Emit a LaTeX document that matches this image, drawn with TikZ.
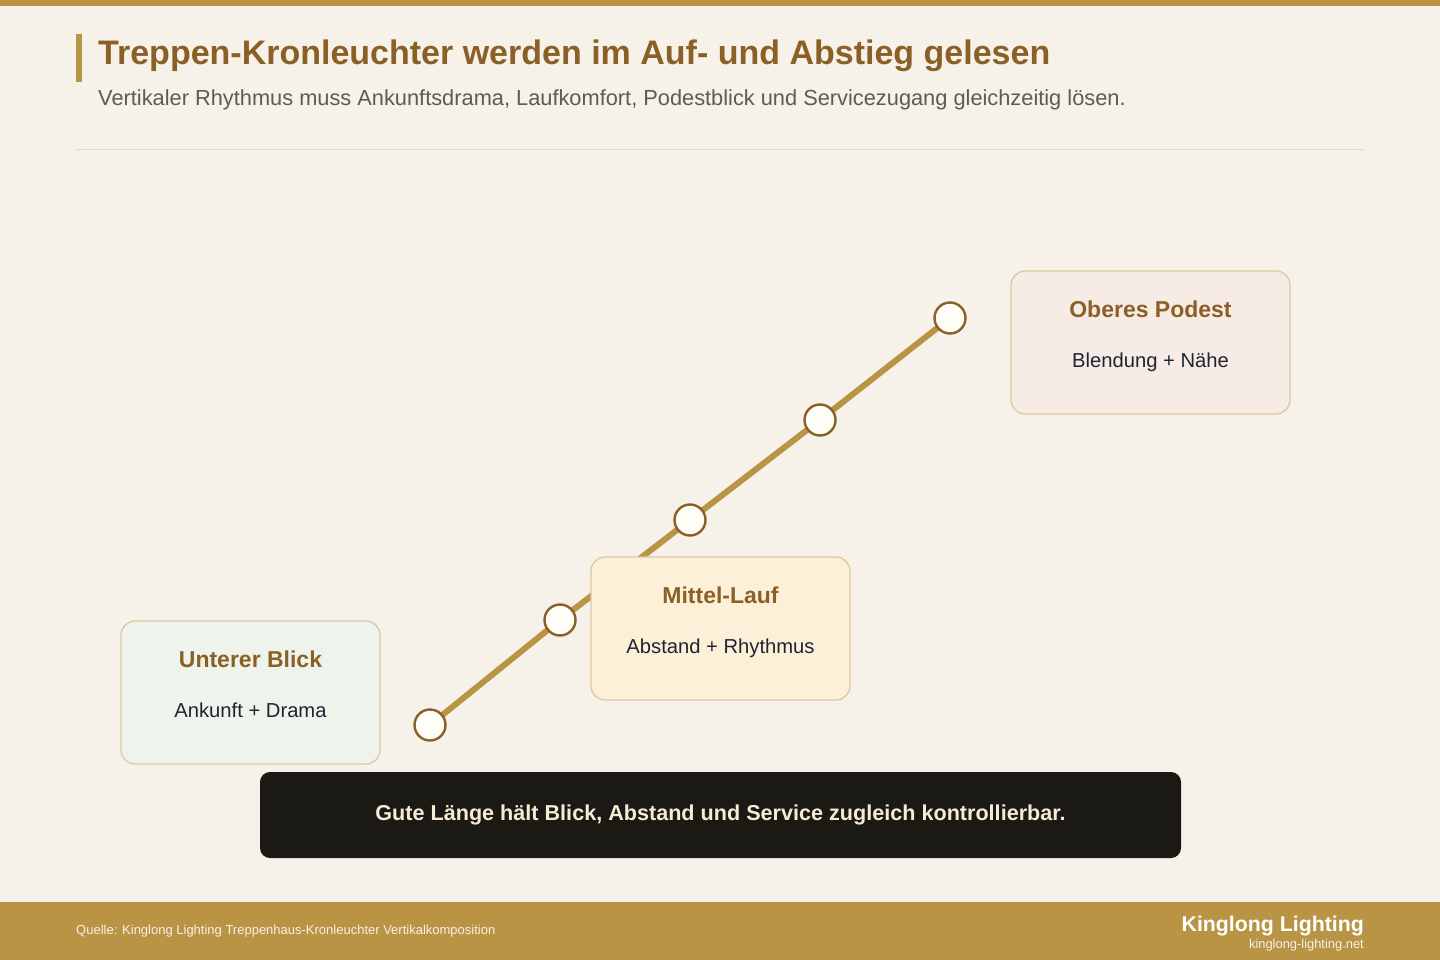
\documentclass[tikz,border=0pt]{standalone}
\usepackage{fontspec}
\setmainfont{Liberation Sans}
\usetikzlibrary{backgrounds}
\definecolor{paper}{HTML}{F6F1E9}
\definecolor{gold}{HTML}{B99444}
\definecolor{brown}{HTML}{8B6026}
\definecolor{rule}{HTML}{E3D7BF}
\definecolor{cardline}{HTML}{DCC9A3}
\definecolor{greencard}{HTML}{EEF4EC}
\definecolor{yellowcard}{HTML}{FDF0D9}
\definecolor{rosecard}{HTML}{F6ECE5}
\definecolor{ink}{HTML}{1F2433}
\definecolor{grayink}{HTML}{5E5A55}
\definecolor{night}{HTML}{1B1914}
\definecolor{cream}{HTML}{F6EBD5}
\definecolor{dotfill}{HTML}{FFFDF8}

\begin{document}
\begin{tikzpicture}[x=1pt,y=-1pt,
  card/.style={draw=cardline, line width=1.3pt, rounded corners=14pt, minimum width=259pt, minimum height=143pt, inner sep=0pt},
  cardtitle/.style={anchor=base, text=brown, font=\fontsize{23}{27}\selectfont\bfseries},
  cardtext/.style={anchor=base, text=ink, font=\fontsize{20.2}{24}\selectfont},
  dot/.style={circle, draw=brown, fill=dotfill, line width=2.4pt, minimum size=31pt, inner sep=0pt}]
  \useasboundingbox (0,0) rectangle (1440,960);
   \fill[gold] (0,0) rectangle (1440,6);
   \fill[gold] (0,902) rectangle (1440,960);
   \fill[gold] (76,34) rectangle (82,82);
   \node[anchor=base west, inner sep=0pt, text=brown, font=\fontsize{34}{40}\selectfont\bfseries] (title) at (98,65) {Treppen-Kronleuchter werden im Auf- und Abstieg gelesen};
   \node[anchor=base west, inner sep=0pt, text=grayink, font=\fontsize{21.8}{26}\selectfont] (subtitle) at (98,106) {Vertikaler Rhythmus muss Ankunftsdrama, Laufkomfort, Podestblick und Servicezugang gleichzeitig lösen.};
   \draw[rule, line width=1pt] (76,150) -- (1364,150);

   % stair line with the five lights
   \node[dot] (d1) at (430,725) {};
    \node[dot] (d2) at (560,620) {};
    \node[dot] (d3) at (690,520) {};
    \node[dot] (d4) at (820,420) {};
    \node[dot] (d5) at (950,318) {};
   \begin{pgfonlayer}{background}
     \fill[paper] (0,0) rectangle (1440,960);
     \draw[gold, line width=6pt] (d1.center) -- (d2.center) -- (d3.center) -- (d4.center) -- (d5.center);
   \end{pgfonlayer}

   % cards
   \node[card, fill=greencard] (lower) at (250.5,692.5) {};
    \node[cardtitle] (lowertitle) at (250.5,667) {Unterer Blick};
    \node[cardtext] (lowertext) at (250.5,717) {Ankunft + Drama};
   \node[card, fill=yellowcard] (middle) at (720.5,628.5) {};
    \node[cardtitle] (middletitle) at (720.5,603) {Mittel-Lauf};
    \node[cardtext] (middletext) at (720.5,653) {Abstand + Rhythmus};
   \node[card, fill=rosecard, minimum width=279pt] (upper) at (1150.5,342.5) {};
    \node[cardtitle] (uppertitle) at (1150.5,317) {Oberes Podest};
    \node[cardtext] (uppertext) at (1150.5,367) {Blendung + Nähe};

   \fill[night, rounded corners=10pt] (260,772) rectangle (1181,858);
   \node[anchor=base, text=cream, font=\fontsize{21.6}{26}\selectfont\bfseries] (verdict) at (720.5,820) {Gute Länge hält Blick, Abstand und Service zugleich kontrollierbar.};

   % footer
   \node[anchor=base west, inner sep=0pt, text=paper, font=\fontsize{13}{15}\selectfont] (source) at (76,934) {Quelle: Kinglong Lighting Treppenhaus-Kronleuchter Vertikalkomposition};
   \node[anchor=base east, inner sep=0pt, text=white, font=\fontsize{21.3}{25}\selectfont\bfseries] (brand) at (1364,931) {Kinglong Lighting};
   \node[anchor=base east, inner sep=0pt, text=paper, font=\fontsize{12.9}{15}\selectfont] (site) at (1364,948) {kinglong-lighting.net};
\end{tikzpicture}
\end{document}
